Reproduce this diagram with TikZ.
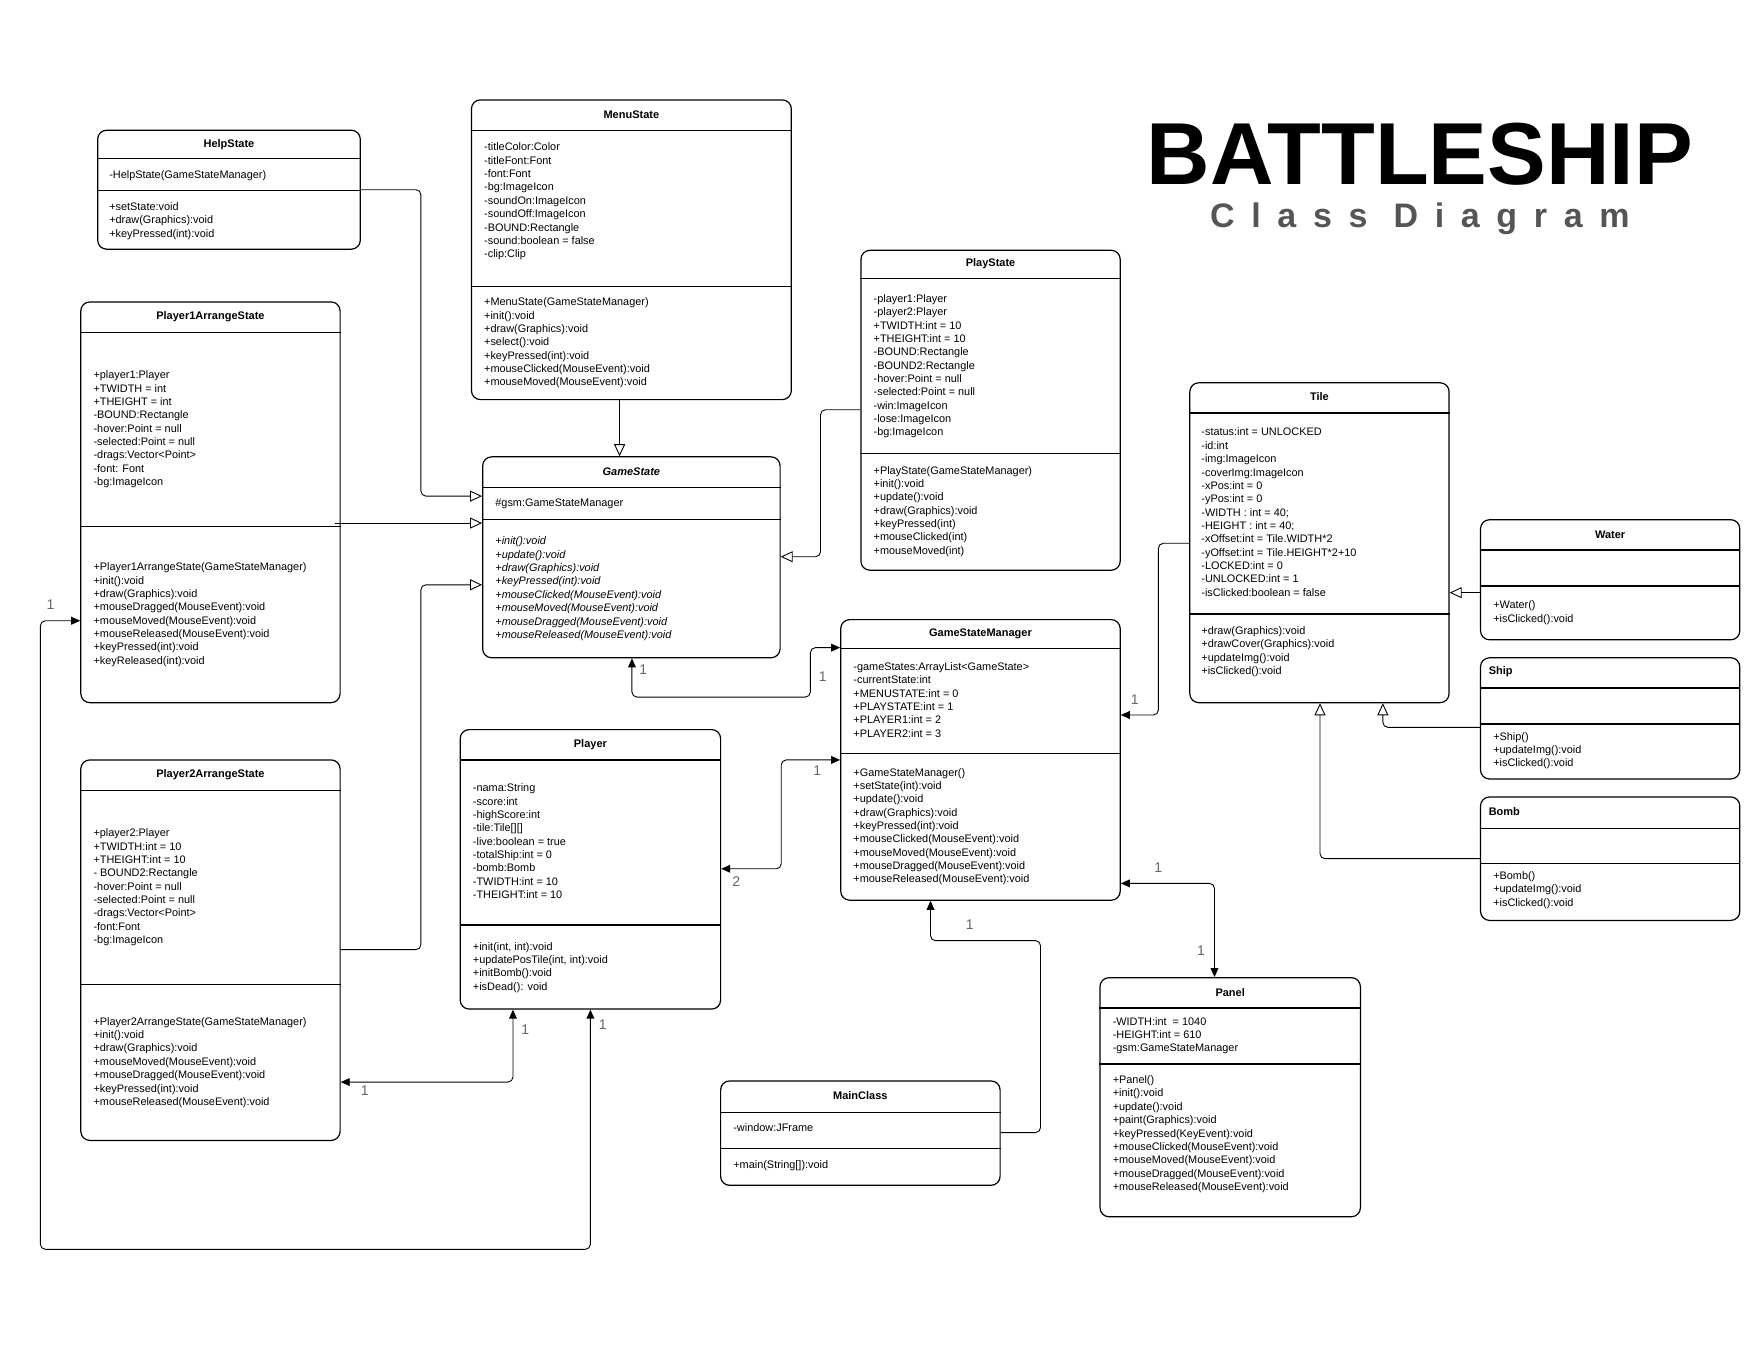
\documentclass[tikz,border=0pt]{standalone}
\usepackage{fontspec}
\setmainfont{Liberation Sans}
\newfontfamily\spacedfont[LetterSpace=49]{Liberation Sans}
\usetikzlibrary{arrows.meta,fit}

\definecolor{multgray}{HTML}{666666}
\definecolor{subgray}{HTML}{555555}

\tikzset{
  classbox/.style={draw, line width=0.6pt, rounded corners=4.5pt, inner sep=0pt},
  classname/.style={font=\fontsize{5.5}{6.7}\selectfont\bfseries, inner sep=0pt},
  members/.style={font=\fontsize{5.45}{6.68}\selectfont, align=left, anchor=north west, inner sep=0pt},
  divider/.style={line width=0.6pt},
  inherit/.style={line width=0.45pt, rounded corners=2.5pt, -{Triangle[open,length=6pt,width=5.5pt]}},
  assoc/.style={line width=0.45pt, rounded corners=2.5pt, {Triangle[length=4.5pt,width=3.9pt]}-{Triangle[length=4.5pt,width=3.9pt]}},
  onearrow/.style={line width=0.45pt, rounded corners=2.5pt, -{Triangle[length=4.5pt,width=3.9pt]}},
  mult/.style={font=\fontsize{7}{8}\selectfont, text=multgray, inner sep=0pt},
}

\begin{document}
\begin{tikzpicture}[x=0.5612pt, y=-0.5612pt]
\fill[white] (0,0) rectangle (1568,1212);
\useasboundingbox (0,0) rectangle (1568,1212);

% title
\node[font=\fontsize{44}{45}\selectfont\bfseries] (title) at (1265,137) {BATTLESHIP};
\node[font=\fontsize{17}{18}\spacedfont\bfseries, text=subgray, anchor=base, inner sep=0pt] (subtitle) at (1265,203) {Class Diagram};

% HelpState
\node[classbox, fit={(87,116) (321,222)}] (help) {};
\node[classname] (helpname) at (help.north |- 0,129) {HelpState};
\draw[divider] (help.west |- 0,141) -- (help.east |- 0,141);
\draw[divider] (help.west |- 0,170) -- (help.east |- 0,170);
\node[members] (helpattr) at (97,152) {-HelpState(GameStateManager)};
\node[members] (helpops) at (97,180) {+setState:void\\+draw(Graphics):void\\+keyPressed(int):void};

% MenuState
\node[classbox, fit={(420,89) (705,356)}] (menu) {};
\node[classname] (menuname) at (menu.north |- 0,102) {MenuState};
\draw[divider] (menu.west |- 0,116) -- (menu.east |- 0,116);
\draw[divider] (menu.west |- 0,255) -- (menu.east |- 0,255);
\node[members] (menuattr) at (431,127) {-titleColor:Color\\-titleFont:Font\\-font:Font\\-bg:ImageIcon\\-soundOn:ImageIcon\\-soundOff:ImageIcon\\-BOUND:Rectangle\\-sound:boolean = false\\-clip:Clip};
\node[members] (menuops) at (431,265) {+MenuState(GameStateManager)\\+init():void\\+draw(Graphics):void\\+select():void\\+keyPressed(int):void\\+mouseClicked(MouseEvent):void\\+mouseMoved(MouseEvent):void};

% PlayState
\node[classbox, fit={(767,223) (998,508)}] (play) {};
\node[classname] (playname) at (play.north |- 0,235) {PlayState};
\draw[divider] (play.west |- 0,248) -- (play.east |- 0,248);
\draw[divider] (play.west |- 0,404) -- (play.east |- 0,404);
\node[members] (playattr) at (778,262) {-player1:Player\\-player2:Player\\+TWIDTH:int = 10\\+THEIGHT:int = 10\\-BOUND:Rectangle\\-BOUND2:Rectangle\\-hover:Point = null\\-selected:Point = null\\-win:ImageIcon\\-lose:ImageIcon\\-bg:ImageIcon};
\node[members] (playops) at (778,415) {+PlayState(GameStateManager)\\+init():void\\+update():void\\+draw(Graphics):void\\+keyPressed(int)\\+mouseClicked(int)\\+mouseMoved(int)};

% Player1ArrangeState
\node[classbox, fit={(72,269) (303,626)}] (p1) {};
\node[classname] (p1name) at (p1.north |- 0,282) {Player1ArrangeState};
\draw[divider] (p1.west |- 0,296) -- (p1.east |- 0,296);
\draw[divider] (p1.west |- 0,469) -- (p1.east |- 0,469);
\node[members] (p1attr) at (83,330) {+player1:Player\\+TWIDTH = int\\+THEIGHT = int\\-BOUND:Rectangle\\-hover:Point = null\\-selected:Point = null\\-drags:Vector<Point>\\-font: Font\\-bg:ImageIcon};
\node[members] (p1ops) at (83,501) {+Player1ArrangeState(GameStateManager)\\+init():void\\+draw(Graphics):void\\+mouseDragged(MouseEvent):void\\+mouseMoved(MouseEvent):void\\+mouseReleased(MouseEvent):void\\+keyPressed(int):void\\+keyReleased(int):void};

% GameState
\node[classbox, fit={(430,407) (695,586)}] (gstate) {};
\node[classname, font=\fontsize{5.5}{6.7}\selectfont\bfseries\itshape] (gstatename) at (gstate.north |- 0,420) {GameState};
\draw[divider] (gstate.west |- 0,434) -- (gstate.east |- 0,434);
\draw[divider] (gstate.west |- 0,463) -- (gstate.east |- 0,463);
\node[members] (gstateattr) at (441,444) {\#gsm:GameStateManager};
\node[members, font=\fontsize{5.45}{6.68}\selectfont\itshape] (gstateops) at (441,478) {+init():void\\+update():void\\+draw(Graphics):void\\+keyPressed(int):void\\+mouseClicked(MouseEvent):void\\+mouseMoved(MouseEvent):void\\+mouseDragged(MouseEvent):void\\+mouseReleased(MouseEvent):void};

% Tile
\node[classbox, fit={(1060,341) (1291,626)}] (tile) {};
\node[classname] (tilename) at (tile.north |- 0,353) {Tile};
\draw[divider] (tile.west |- 0,368) -- (tile.east |- 0,368);
\draw[divider] (tile.west |- 0,547) -- (tile.east |- 0,547);
\node[members] (tileattr) at (1070,381) {-status:int = UNLOCKED\\-id:int\\-img:ImageIcon\\-coverImg:ImageIcon\\-xPos:int = 0\\-yPos:int = 0\\-WIDTH : int = 40;\\-HEIGHT : int = 40;\\-xOffset:int = Tile.WIDTH*2\\-yOffset:int = Tile.HEIGHT*2+10\\-LOCKED:int = 0\\-UNLOCKED:int = 1\\-isClicked:boolean = false};
\node[members] (tileops) at (1070,558) {+draw(Graphics):void\\+drawCover(Graphics):void\\+updateImg():void\\+isClicked():void};

% Water
\node[classbox, fit={(1319,463) (1550,570)}] (water) {};
\node[classname] (watername) at (water.north |- 0,476) {Water};
\draw[divider] (water.west |- 0,490) -- (water.east |- 0,490);
\draw[divider] (water.west |- 0,522) -- (water.east |- 0,522);
\node[members] (waterops) at (1330,535) {+Water()\\+isClicked():void};

% Ship
\node[classbox, fit={(1319,586) (1550,694)}] (ship) {};
\node[classname, anchor=west] (shipname) at (1326,598) {Ship};
\draw[divider] (ship.west |- 0,613) -- (ship.east |- 0,613);
\draw[divider] (ship.west |- 0,645) -- (ship.east |- 0,645);
\node[members] (shipops) at (1330,652) {+Ship()\\+updateImg():void\\+isClicked():void};

% Bomb
\node[classbox, fit={(1319,710) (1550,820)}] (bomb) {};
\node[classname, anchor=west] (bombname) at (1326,723) {Bomb};
\draw[divider] (bomb.west |- 0,738) -- (bomb.east |- 0,738);
\draw[divider] (bomb.west |- 0,769) -- (bomb.east |- 0,769);
\node[members] (bombops) at (1330,776) {+Bomb()\\+updateImg():void\\+isClicked():void};

% GameStateManager
\node[classbox, fit={(749,552) (998,802)}] (gsm) {};
\node[classname] (gsmname) at (gsm.north |- 0,565) {GameStateManager};
\draw[divider] (gsm.west |- 0,578) -- (gsm.east |- 0,578);
\draw[divider] (gsm.west |- 0,671) -- (gsm.east |- 0,671);
\node[members] (gsmattr) at (760,590) {-gameStates:ArrayList<GameState>\\-currentState:int\\+MENUSTATE:int = 0\\+PLAYSTATE:int = 1\\+PLAYER1:int = 2\\+PLAYER2:int = 3};
\node[members] (gsmops) at (760,684) {+GameStateManager()\\+setState(int):void\\+update():void\\+draw(Graphics):void\\+keyPressed(int):void\\+mouseClicked(MouseEvent):void\\+mouseMoved(MouseEvent):void\\+mouseDragged(MouseEvent):void\\+mouseReleased(MouseEvent):void};

% Player
\node[classbox, fit={(410,650) (642,899)}] (player) {};
\node[classname] (playername) at (player.north |- 0,663) {Player};
\draw[divider] (player.west |- 0,677) -- (player.east |- 0,677);
\draw[divider] (player.west |- 0,824) -- (player.east |- 0,824);
\node[members] (playerattr) at (421,698) {-nama:String\\-score:int\\-highScore:int\\-tile:Tile[][]\\-live:boolean = true\\-totalShip:int = 0\\-bomb:Bomb\\-TWIDTH:int = 10\\-THEIGHT:int = 10};
\node[members] (playerops) at (421,839) {+init(int, int):void\\+updatePosTile(int, int):void\\+initBomb():void\\+isDead(): void};

% Player2ArrangeState
\node[classbox, fit={(72,677) (303,1016)}] (p2) {};
\node[classname] (p2name) at (p2.north |- 0,690) {Player2ArrangeState};
\draw[divider] (p2.west |- 0,704) -- (p2.east |- 0,704);
\draw[divider] (p2.west |- 0,877) -- (p2.east |- 0,877);
\node[members] (p2attr) at (83,738) {+player2:Player\\+TWIDTH:int = 10\\+THEIGHT:int = 10\\- BOUND2:Rectangle\\-hover:Point = null\\-selected:Point = null\\-drags:Vector<Point>\\-font:Font\\-bg:ImageIcon};
\node[members] (p2ops) at (83,906) {+Player2ArrangeState(GameStateManager)\\+init():void\\+draw(Graphics):void\\+mouseMoved(MouseEvent):void\\+mouseDragged(MouseEvent):void\\+keyPressed(int):void\\+mouseReleased(MouseEvent):void};

% Panel
\node[classbox, fit={(980,871) (1212,1084)}] (panel) {};
\node[classname] (panelname) at (panel.north |- 0,884) {Panel};
\draw[divider] (panel.west |- 0,898) -- (panel.east |- 0,898);
\draw[divider] (panel.west |- 0,948) -- (panel.east |- 0,948);
\node[members] (panelattr) at (991,906) {-WIDTH:int~ = 1040\\-HEIGHT:int = 610\\-gsm:GameStateManager};
\node[members] (panelops) at (991,958) {+Panel()\\+init():void\\+update():void\\+paint(Graphics):void\\+keyPressed(KeyEvent):void\\+mouseClicked(MouseEvent):void\\+mouseMoved(MouseEvent):void\\+mouseDragged(MouseEvent):void\\+mouseReleased(MouseEvent):void};

% MainClass
\node[classbox, fit={(642,963) (891,1056)}] (main) {};
\node[classname] (mainname) at (main.north |- 0,976) {MainClass};
\draw[divider] (main.west |- 0,991) -- (main.east |- 0,991);
\draw[divider] (main.west |- 0,1023) -- (main.east |- 0,1023);
\node[members] (mainattr) at (653,1001) {-window:JFrame};
\node[members] (mainops) at (653,1034) {+main(String[]):void};

% generalisations
\draw[inherit] (help.east |- 0,169) -| (375,442) -- (gstate.west |- 0,442);
\draw[inherit] ([xshift=-2.8pt]p1.east |- 0,466) -- (gstate.west |- 0,466);
\draw[inherit] (p2.east |- 0,846) -| (375,521) -- (gstate.west |- 0,521);
\draw[inherit] (menu.south -| 552,0) -- (gstate.north -| 552,0);
\draw[inherit] (play.west |- 0,365) -| (731,496) -- (gstate.east |- 0,496);
\draw[inherit] (water.west |- 0,528) -- (tile.east |- 0,528);
\draw[inherit] (ship.west |- 0,648) -| (tile.south -| 1232,0);
\draw[inherit] (bomb.west |- 0,765) -| (tile.south -| 1176,0);

% associations
\draw[assoc] (gstate.south -| 563,0) |- (722,621) |- (gsm.west |- 0,577);
\node[mult] (m1) at (573,597) {1};
\node[mult] (m2) at (733,603) {1};
\draw[assoc] (gsm.west |- 0,677) -| (696,774) -- (player.east |- 0,774);
\node[mult] (m3) at (728,687) {1};
\node[mult] (m4) at (656,785) {2};
\draw[assoc] (p1.west |- 0,553) -| (36,1113) -| (player.south -| 526,0);
\node[mult] (m5) at (45,539) {1};
\node[mult] (m6) at (537,913) {1};
\draw[assoc] (p2.east |- 0,964) -| (player.south -| 457,0);
\node[mult] (m7) at (325,972) {1};
\node[mult] (m8) at (468,917) {1};
\draw[onearrow] (tile.west |- 0,484) -| (1032,637) -- (gsm.east |- 0,637);
\node[mult] (m9) at (1011,623) {1};
\draw[assoc] (gsm.east |- 0,787) -| (panel.north -| 1082,0);
\node[mult] (m10) at (1032,773) {1};
\node[mult] (m11) at (1070,847) {1};
\draw[onearrow] (main.east |- 0,1009) -| (927,838) -| (gsm.south -| 829,0);
\node[mult] (m12) at (864,824) {1};
\end{tikzpicture}
\end{document}
